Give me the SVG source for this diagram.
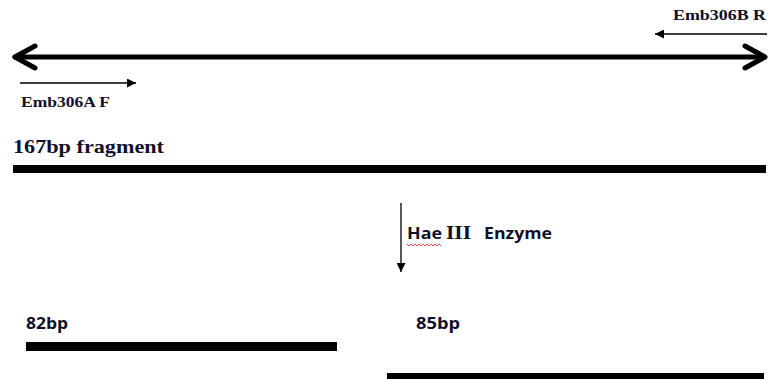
<svg xmlns="http://www.w3.org/2000/svg" width="769" height="379" viewBox="0 0 769 379">
<style>
.serif{font-family:"Liberation Serif","Times New Roman",serif;font-weight:bold;fill:#10102a}
.sans{font-family:"Open Sans","Liberation Sans",Arial,sans-serif;font-weight:bold;fill:#10102a}
.bar{fill:#000}
.thin{stroke:#000;stroke-width:1.3;fill:none}
.thick{stroke:#000;stroke-width:5;fill:none;stroke-linecap:round;stroke-linejoin:round}
</style>
<defs>
<marker id="ah" viewBox="0 0 10 10" refX="10" refY="5" markerWidth="11" markerHeight="9" markerUnits="userSpaceOnUse" orient="auto">
<path d="M0,0 L10,5 L0,10 Z" fill="#000"/>
</marker>
</defs>
<rect width="769" height="379" fill="#fff"/>
<g id="connectors">
<g id="double-arrow">
<line class="thick" x1="15" y1="57" x2="764" y2="57"/>
<path class="thick" d="M35,46 L15,57 L35,68"/>
<path class="thick" d="M745,46 L765,57 L745,68"/>
</g>
<line id="primer-f-arrow" class="thin" x1="20" y1="83" x2="136" y2="83" marker-end="url(#ah)"/>
<line id="primer-r-arrow" class="thin" x1="767" y1="34" x2="655" y2="34" marker-end="url(#ah)"/>
<line id="enzyme-arrow" class="thin" x1="401" y1="203" x2="401" y2="272" marker-end="url(#ah)"/>
</g>
<g id="primer-f">
<text class="serif" x="21" y="107" font-size="15.5" textLength="89" lengthAdjust="spacingAndGlyphs">Emb306A F</text>
</g>
<g id="primer-r">
<text class="serif" x="673" y="20" font-size="15.5" textLength="93" lengthAdjust="spacingAndGlyphs">Emb306B R</text>
</g>
<g id="fragment-167">
<text class="serif" x="13" y="153" font-size="19" textLength="151" lengthAdjust="spacingAndGlyphs">167bp fragment</text>
<rect class="bar" x="13" y="165" width="753" height="8"/>
</g>
<g id="enzyme">
<text class="sans" x="407" y="239" font-size="16" textLength="35" lengthAdjust="spacingAndGlyphs">Hae</text>
<text class="serif" x="446" y="239" font-size="18" textLength="25" lengthAdjust="spacingAndGlyphs">III</text>
<text class="sans" x="484" y="239" font-size="16" textLength="68" lengthAdjust="spacingAndGlyphs">Enzyme</text>
<path d="M407,244 l2,2 l2,-2 l2,2 l2,-2 l2,2 l2,-2 l2,2 l2,-2 l2,2 l2,-2 l2,2 l2,-2 l2,2 l2,-2 l2,2 l2,-2 l2,2" fill="none" stroke="#e03030" stroke-width="0.9"/>
</g>
<g id="fragment-82">
<text class="sans" x="26" y="329" font-size="16" textLength="42" lengthAdjust="spacingAndGlyphs">82bp</text>
<rect class="bar" x="26" y="342" width="311" height="9"/>
</g>
<g id="fragment-85">
<text class="sans" x="416" y="329" font-size="16" textLength="44" lengthAdjust="spacingAndGlyphs">85bp</text>
<rect class="bar" x="387" y="373" width="377" height="6"/>
</g>
</svg>
